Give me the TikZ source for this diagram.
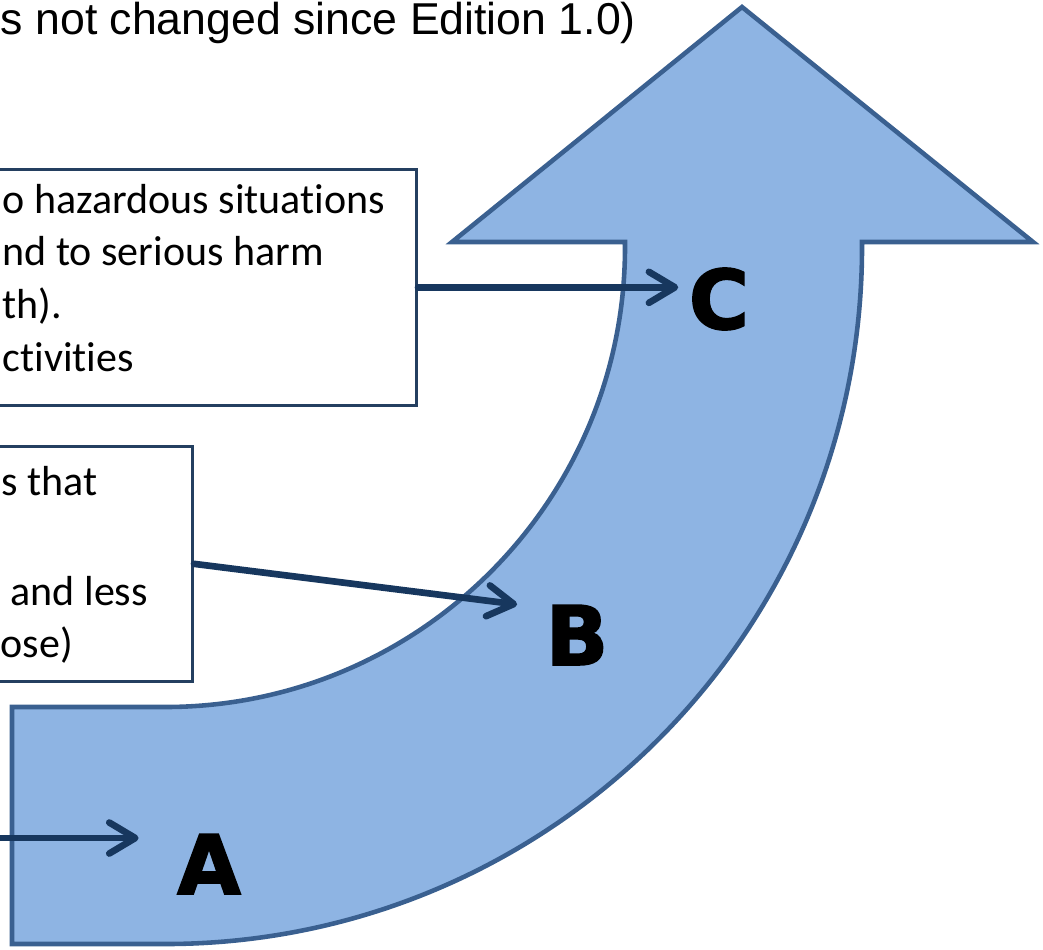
\documentclass[tikz,border=0pt]{standalone}
\usepackage{fontspec}
\setmainfont{Carlito}[RawFeature={-liga;-clig;-calt;-dlig;-ccmp}]
\newfontfamily\arialf{Liberation Sans}
\newfontfamily\heavyf{DejaVu Sans Bold}[FakeBold=2.2]
\usetikzlibrary{arrows.meta,positioning,calc}
\definecolor{skyfill}{HTML}{8EB4E3}
\definecolor{skyline}{HTML}{3A6090}
\definecolor{navyarr}{HTML}{17375E}
\definecolor{boxline}{HTML}{243F60}

\begin{document}
\begin{tikzpicture}[font=\fontsize{11.95}{14.8}\selectfont,
    textbox/.style={draw=boxline,line width=0.75pt,fill=white,inner sep=0pt},
    boxtext/.style={anchor=base west,inner sep=0pt},
    letter/.style={font=\heavyf\fontsize{23.3}{28}\selectfont,inner sep=0pt},
    pointer/.style={navyarr,line width=1.9pt,line cap=round,-{Straight Barb[length=2.6mm,width=3.1mm,round]}}]
  \useasboundingbox (0,0) rectangle (10.43,-9.49);
  \clip (0,0) rectangle (10.43,-9.49);
  % curved arrow
  \draw[skyline,fill=skyfill,line width=1.3pt] (0.12,-7.07) -- (1.65,-7.07)
    arc[start angle=-90,end angle=0,radius=4.6] -- (6.25,-2.42) -- (4.52,-2.42) -- (7.42,-0.07)
    -- (10.33,-2.42) -- (8.62,-2.42) -- (8.62,-2.47)
    arc[start angle=0,end angle=-90,radius=6.97] -- (0.12,-9.44) -- cycle;
  \node[font=\arialf\fontsize{12.7}{15}\selectfont,anchor=base west,inner sep=0pt] (title) at (0,-0.34) {s not changed since Edition 1.0)};
  % boxes
  \node[textbox,minimum width=4.48cm,minimum height=2.36cm,anchor=north east] (hazbox) at (4.18,-1.68) {};
  \foreach \txt [count=\i] in {o hazardous situations,nd to serious harm,th).,ctivities}
    \node[boxtext] (haz-\i) at (0.02,{-2.13-0.527*(\i-1)}) {\txt};
  \node[textbox,minimum width=2.24cm,minimum height=2.35cm,anchor=north east] (rbox) at (1.94,-4.45) {};
  \foreach \x/\y/\txt [count=\i] in {0.01/4.95/s that,0.10/6.05/and less,0.0/6.57/ose)}
    \node[boxtext] (red-\i) at (\x,-\y) {\txt};
  % labels
  \node[letter] (C) at (7.19,-2.99) {C};
  \node[letter] (B) at (5.77,-6.35) {B};
  \node[letter] (A) at (2.09,-8.64) {A};
  \coordinate (Afrom) at (-0.2,-8.38);
  \draw[pointer] (hazbox.east) -- ([xshift=-1mm]hazbox.east -| C.west);
  \draw[pointer] (rbox.east) -- ([xshift=-2.8mm]B.north west);
  \draw[pointer] (Afrom) -- ([xshift=-3.8mm]Afrom -| A.west);
\end{tikzpicture}
\end{document}
